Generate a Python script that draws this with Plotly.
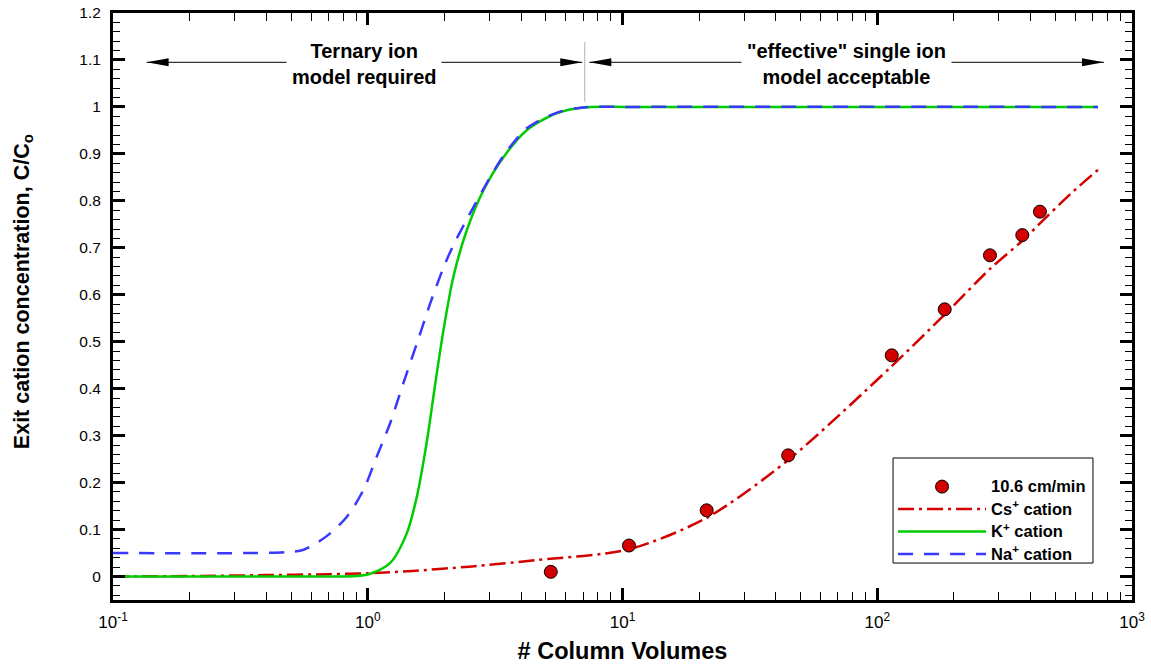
import plotly.graph_objects as go
import math

# ---------------- data ----------------
pts_x = [5.23, 10.6, 21.4, 44.7, 114, 184, 277, 371, 435]
pts_y = [0.010, 0.066, 0.141, 0.258, 0.471, 0.569, 0.684, 0.727, 0.777]

cs_x = [0.1, 0.2, 0.4, 0.7, 1.0, 1.5, 2.5, 4.6, 10.6, 21.4, 44.7, 114, 184, 277, 371, 435, 574, 735]
cs_y = [0.000, 0.001, 0.003, 0.005, 0.007, 0.012, 0.021, 0.035, 0.058, 0.125, 0.248, 0.448, 0.558,
        0.655, 0.715, 0.752, 0.815, 0.866]

k_x = [0.1, 0.345, 0.75, 0.9, 1.023, 1.225, 1.425, 1.56, 1.71, 1.84, 1.99, 2.17, 2.45, 2.85, 3.42,
       4.22, 5.54, 7.03, 10.7, 735]
k_y = [0.0, 0.0, 0.0, 0.001, 0.006, 0.029, 0.093, 0.171, 0.291, 0.410, 0.530, 0.639, 0.738, 0.823,
       0.894, 0.951, 0.987, 0.999, 1.0, 1.0]

na_x = [0.1, 0.345, 0.481, 0.56, 0.69, 0.83, 0.963, 1.086, 1.225, 1.38, 1.56, 1.76, 1.99, 2.17,
        2.38, 2.62, 2.85, 3.42, 4.22, 5.54, 7.03, 10.7, 735]
na_y = [0.05, 0.05, 0.052, 0.057, 0.086, 0.128, 0.185, 0.256, 0.327, 0.412, 0.497, 0.582, 0.660,
        0.706, 0.748, 0.790, 0.826, 0.897, 0.955, 0.988, 0.999, 1.0, 1.0]

series_names = ["10.6 cm/min", "Cs<sup>+</sup> cation", "K<sup>+</sup> cation", "Na<sup>+</sup> cation"]

x_tickvals = [0.1, 1, 10, 100, 1000]
x_ticktext = ["10<sup>-1</sup>", "10<sup>0</sup>", "10<sup>1</sup>", "10<sup>2</sup>", "10<sup>3</sup>"]
y_tickvals = [round(0.1 * i, 1) for i in range(13)]
y_ticktext = ["0", "0.1", "0.2", "0.3", "0.4", "0.5", "0.6", "0.7", "0.8", "0.9", "1", "1.1", "1.2"]

x_title = "# Column Volumes"
y_title = "Exit cation concentration, C/C<sub>o</sub>"

region_text = ["Ternary ion<br>model required", "\"effective\" single ion<br>model acceptable"]
region_spans = [(0.1355, 6.95), (7.41, 776)]
region_divider = 7.11

# ---------------- figure ----------------
FONT = "Arial, Liberation Sans, Helvetica, sans-serif"
RED = "#d40000"
GREEN = "#00cc00"
BLUE = "#3838ff"


def legend_label(s):
    return '<span style="font-size:16.5px">' + s + "</span>"


fig = go.Figure()

fig.add_trace(go.Scatter(x=cs_x, y=cs_y, mode="lines", name=legend_label(series_names[1]), legendrank=2,
                         line=dict(color=RED, width=2.5, dash="16px,5px,3px,5px",
                                   shape="spline", smoothing=0.8)))
fig.add_trace(go.Scatter(x=k_x, y=k_y, mode="lines", name=legend_label(series_names[2]), legendrank=3,
                         line=dict(color=GREEN, width=2.5, shape="spline", smoothing=0.8)))
fig.add_trace(go.Scatter(x=na_x, y=na_y, mode="lines", name=legend_label(series_names[3]), legendrank=4,
                         line=dict(color=BLUE, width=2.5, dash="15px,11px",
                                   shape="spline", smoothing=0.8)))
fig.add_trace(go.Scatter(x=pts_x, y=pts_y, mode="markers", name=legend_label(series_names[0]), legendrank=1,
                         marker=dict(color=RED, size=13, line=dict(color="black", width=1))))

minor_x = [m * 10 ** e for e in range(-1, 3) for m in range(2, 10)]

fig.update_xaxes(
    type="log", range=[-1, 3], automargin=False,
    tickvals=x_tickvals, ticktext=x_ticktext,
    ticks="inside", ticklen=12, tickwidth=2.5, tickcolor="black",
    showline=True, linewidth=3, linecolor="black", mirror="allticks",
    showgrid=False, zeroline=False,
    tickfont=dict(family=FONT, size=17, color="black"),
    ticklabelstandoff=5,
    minor=dict(tickvals=minor_x, ticks="inside", ticklen=8, tickwidth=1, tickcolor="black",
               showgrid=False),
    title=dict(text=x_title, standoff=12,
               font=dict(family=FONT, size=23.5, color="black", weight="bold")),
)
fig.update_yaxes(
    range=[-0.05, 1.2], automargin=False,
    tickvals=y_tickvals, ticktext=y_ticktext,
    ticks="inside", ticklen=12, tickwidth=2.5, tickcolor="black",
    showline=True, linewidth=3, linecolor="black", mirror="allticks",
    showgrid=False, zeroline=False,
    tickfont=dict(family=FONT, size=15.5, color="black"),
    ticklabelstandoff=6,
    minor=dict(dtick=0.02, tick0=0, ticks="inside", ticklen=7, tickwidth=1, tickcolor="black",
               showgrid=False),
)

# region arrows
AY = 1.095
shapes = []
annotations = []
for (x0, x1), txt in zip(region_spans, region_text):
    shapes.append(dict(type="line", xref="x", yref="y", x0=x0, x1=x1, y0=AY, y1=AY,
                       line=dict(color="black", width=1)))
    shapes.append(dict(type="path", xref="x", yref="y", xsizemode="pixel", ysizemode="pixel",
                       xanchor=x0, yanchor=AY, path="M0,0 L22,4 L22,-4 Z",
                       fillcolor="black", line=dict(width=0)))
    shapes.append(dict(type="path", xref="x", yref="y", xsizemode="pixel", ysizemode="pixel",
                       xanchor=x1, yanchor=AY, path="M0,0 L-22,4 L-22,-4 Z",
                       fillcolor="black", line=dict(width=0)))
    xm = (math.log10(x0) + math.log10(x1)) / 2
    annotations.append(dict(x=xm, y=AY, xref="x", yref="y", text=txt, showarrow=False,
                            bgcolor="white", borderpad=5, yshift=-2,
                            font=dict(family=FONT, size=20, color="black", weight="bold")))

shapes.append(dict(type="line", xref="x", yref="y", x0=region_divider, x1=region_divider,
                   y0=1.011, y1=1.138, line=dict(color="#b0b0b0", width=1)))

# legend frame (drawn as a box so its size matches the reference)
shapes.append(dict(type="rect", xref="paper", yref="paper", x0=0.7655, x1=0.9617, y0=0.063, y1=0.2419,
                   line=dict(color="black", width=1), fillcolor="white", layer="above"))

# y-axis title (rotated text, like the reference)
annotations.append(dict(x=-0.0884, y=0.526, xref="paper", yref="paper", text=y_title,
                        textangle=-90, showarrow=False, xanchor="center", yanchor="middle",
                        font=dict(family=FONT, size=21.5, color="black", weight="bold")))

fig.update_layout(
    width=1151, height=666,
    margin=dict(l=113, r=19, t=13, b=66),
    paper_bgcolor="white", plot_bgcolor="white",
    font=dict(family=FONT, color="black"),
    shapes=shapes, annotations=annotations,
    showlegend=True,
    legend=dict(x=0.7655, y=0.2419, xanchor="left", yanchor="top",
                bgcolor="rgba(0,0,0,0)", borderwidth=0,
                itemwidth=88, tracegroupgap=0,
                title=dict(text="&nbsp;", font=dict(size=9.5)),
                font=dict(family=FONT, size=15, color="black", weight="bold")),
)

fig.write_html("out.html")
